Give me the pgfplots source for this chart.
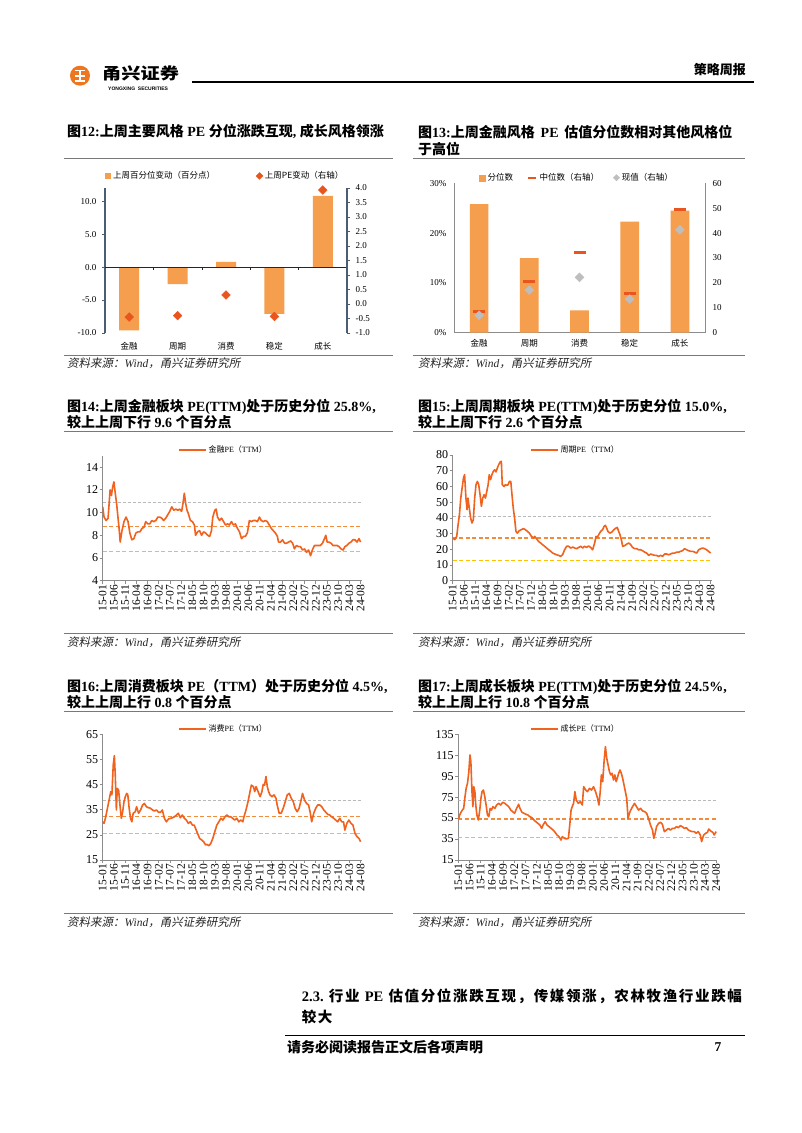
\documentclass[border=0pt]{standalone}
\usepackage{fontspec}
\setmainfont{Liberation Serif}
\newfontfamily\cjk{Noto Sans CJK SC}
\newfontfamily\cjkit[FakeSlant=0.2]{Noto Sans CJK SC}
\newfontfamily\lsans{Liberation Sans}
\usepackage{pgfplots}
\pgfplotsset{compat=1.18}
\newcommand\zh[1]{{\cjk #1}}
\newcommand\zhi[1]{{\cjkit #1}}
\newcommand\fs[1]{\fontsize{#1}{#1}\selectfont}
\newcommand\sg{\hskip 0pt plus 1fil\relax}
\definecolor{barc}{RGB}{245,158,78}
\definecolor{linec}{RGB}{240,98,30}
\definecolor{diac}{RGB}{233,85,30}
\definecolor{curc}{RGB}{190,190,190}
\definecolor{axgray}{RGB}{140,140,140}
\definecolor{axblue}{RGB}{75,92,115}
\definecolor{dgray}{RGB}{185,185,185}
\definecolor{dorange}{RGB}{240,140,60}
\definecolor{dyellow}{RGB}{255,192,0}
\definecolor{logoc}{RGB}{237,118,30}
\definecolor{rulec}{RGB}{120,120,120}
\pgfplotsset{
  /pgf/number format/assume math mode=true,
  linechart/.style={
    scale only axis, width=259pt, height=125.5pt,
    xmin=0, xmax=115.5,
    axis x line*=bottom, axis y line*=left,
    axis line style={draw=axgray, line width=0.8pt},
    tick style={draw=axgray, line width=0.6pt},
    tick align=outside, major tick length=3pt,
    xtick={0,5,...,115},
    xticklabels={15-01,15-06,15-11,16-04,16-09,17-02,17-07,17-12,18-05,18-10,19-03,19-08,20-01,20-06,20-11,21-04,21-09,22-02,22-07,22-12,23-05,23-10,24-03,24-08},
    xticklabel style={rotate=90, anchor=east, font=\fs{11.5}, inner sep=1pt},
    yticklabel style={font=\fs{12}, inner sep=1.5pt},
    legend style={draw=none, fill=none, font=\fs{8}, inner sep=0pt, anchor=west},
    legend image code/.code={\draw[##1, line width=1.6pt] (0pt,0pt) -- (27pt,0pt);},
  },
  pe/.style={linec, line width=1.6pt, line join=round, no markers},
  dg/.style={dgray, line width=0.8pt, dash pattern=on 3pt off 2pt, forget plot},
  do/.style={dorange, line width=1.1pt, dash pattern=on 4pt off 2.5pt, forget plot},
  dy/.style={dyellow, line width=1.1pt, dash pattern=on 4pt off 2.5pt, forget plot},
}
\begin{document}
\begin{tikzpicture}
\path[use as bounding box, fill=white] (0,0) rectangle (802pt,-1133pt);

% ---------- header ----------
\fill[logoc] (80pt,-75.7pt) circle (10pt);
\draw[white, line width=1.6pt] (75pt,-70.5pt) -- (85pt,-70.5pt) (75pt,-75.7pt) -- (85pt,-75.7pt) (75pt,-81pt) -- (85pt,-81pt) (80pt,-69.5pt) -- (80pt,-82pt);
\node[anchor=west, inner sep=0pt, font=\bfseries\fs{16}, xscale=1.2, transform shape] at (102pt,-73.3pt) {\zh{甬兴证券}};
\node[anchor=west, inner sep=0pt, font=\lsans\bfseries\fs{5}] at (108pt,-88.3pt) {YONGXING\ \ SECURITIES};
\draw[black, line width=1.6pt] (192pt,-81.7pt) -- (754pt,-81.7pt);
\node[anchor=east, inner sep=0pt, font=\bfseries\fs{13}] at (746pt,-70pt) {\zh{策略周报}};

% ---------- titles ----------
\node[anchor=west, inner sep=0pt, font=\bfseries\fs{14}] at (67pt,-131.7pt) {\zh{图}12:\zh{上周主要风格} PE \zh{分位涨跌互现}, \zh{成长风格领涨}};
\node[anchor=west, inner sep=0pt, font=\bfseries\fs{14}] at (418pt,-131.7pt) {\zh{图}13:\zh{上周金融风格}\ \,PE\ \,\zh{估值分位数相对其他风格位}};
\node[anchor=west, inner sep=0pt, font=\bfseries\fs{14}] at (418pt,-149.3pt) {\zh{于高位}};
\node[anchor=west, inner sep=0pt, font=\bfseries\fs{14}] at (67pt,-406.7pt) {\zh{图}14:\zh{上周金融板块} PE(TTM)\zh{处于历史分位} 25.8\%,};
\node[anchor=west, inner sep=0pt, font=\bfseries\fs{14}] at (67pt,-422.3pt) {\zh{较上上周下行} 9.6 \zh{个百分点}};
\node[anchor=west, inner sep=0pt, font=\bfseries\fs{14}] at (418pt,-406.7pt) {\zh{图}15:\zh{上周周期板块} PE(TTM)\zh{处于历史分位} 15.0\%,};
\node[anchor=west, inner sep=0pt, font=\bfseries\fs{14}] at (418pt,-422.3pt) {\zh{较上上周下行} 2.6 \zh{个百分点}};
\node[anchor=west, inner sep=0pt, font=\bfseries\fs{14}] at (67pt,-686.7pt) {\zh{图}16:\zh{上周消费板块} PE\zh{（}TTM\zh{）处于历史分位} 4.5\%,};
\node[anchor=west, inner sep=0pt, font=\bfseries\fs{14}] at (67pt,-702.3pt) {\zh{较上上周上行} 0.8 \zh{个百分点}};
\node[anchor=west, inner sep=0pt, font=\bfseries\fs{14}] at (418pt,-686.7pt) {\zh{图}17:\zh{上周成长板块} PE(TTM)\zh{处于历史分位} 24.5\%,};
\node[anchor=west, inner sep=0pt, font=\bfseries\fs{14}] at (418pt,-702.3pt) {\zh{较上上周上行} 10.8 \zh{个百分点}};

% ---------- rules ----------
\draw[rulec, line width=1pt] (64pt,-158.5pt) -- (393pt,-158.5pt) (413pt,-158.5pt) -- (745pt,-158.5pt);
\draw[rulec, line width=1pt] (64pt,-355pt) -- (393pt,-355pt) (413pt,-355pt) -- (745pt,-355pt);
\draw[rulec, line width=1pt] (64pt,-431.7pt) -- (393pt,-431.7pt) (413pt,-431.7pt) -- (745pt,-431.7pt);
\draw[rulec, line width=1pt] (64pt,-633.3pt) -- (393pt,-633.3pt) (413pt,-633.3pt) -- (745pt,-633.3pt);
\draw[rulec, line width=1pt] (64pt,-711.7pt) -- (393pt,-711.7pt) (413pt,-711.7pt) -- (745pt,-711.7pt);
\draw[rulec, line width=1pt] (64pt,-913.3pt) -- (393pt,-913.3pt) (413pt,-913.3pt) -- (745pt,-913.3pt);

% ---------- sources ----------
\foreach \xx/\yy in {67/363,418/363,67/642.7,418/642.7,67/922.7,418/922.7}{
  \node[anchor=west, inner sep=0pt, font=\fs{11.5}, text=black!85] at (\xx pt,-\yy pt) {\zhi{资料来源：}\textit{Wind}\zhi{，甬兴证券研究所}};
}

% ---------- footer ----------
\node[anchor=west, inner sep=0pt, font=\bfseries\fs{14.5}] at (301.7pt,-996.7pt) {\makebox[440pt][s]{2.3.\sg\ {\cjk 行\sg 业}\sg\ PE\sg\ {\cjk 估\sg 值\sg 分\sg 位\sg 涨\sg 跌\sg 互\sg 现\sg ，\sg 传\sg 媒\sg 领\sg 涨\sg ，\sg 农\sg 林\sg 牧\sg 渔\sg 行\sg 业\sg 跌\sg 幅}}};
\node[anchor=west, inner sep=0pt, font=\bfseries\fs{14.5}] at (301.7pt,-1016.7pt) {{\cjk 较\hspace{1.5pt}大}};
\draw[black, line width=0.9pt] (285pt,-1035pt) -- (745pt,-1035pt);
\node[anchor=west, inner sep=0pt, font=\bfseries\fs{14}] at (287pt,-1047pt) {\zh{请务必阅读报告正文后各项声明}};
\node[anchor=center, inner sep=0pt, font=\bfseries\fs{13.5}] at (718pt,-1047pt) {7};

% ================= Chart 12 =================
\begin{axis}[at={(105pt,-333pt)}, anchor=south west, scale only axis, width=242pt, height=145pt,
  xmin=-0.5, xmax=4.5, ymin=-10, ymax=12,
  axis x line*=bottom, axis y line*=left,
  x axis line style={draw=none}, y axis line style={draw=axblue, line width=1.2pt},
  xtick={0,1,2,3,4}, xticklabels={金融,周期,消费,稳定,成长}, xtick style={draw=none},
  xticklabel style={font=\cjk\fs{8.5}, yshift=-3pt},
  ytick={-10,-5,0,5,10}, ytick style={draw=axblue, line width=0.8pt},
  tick align=outside, major tick length=3pt,
  /pgf/number format/fixed, /pgf/number format/fixed zerofill, /pgf/number format/precision=1,
  yticklabel style={font=\fs{9}, xshift=-2pt},
  legend style={at={(axis description cs:0.0,1.083)}, anchor=west, draw=none, fill=none,
    font=\cjk\fs{8.5}, legend columns=2, inner sep=0pt,
    /tikz/every even column/.append style={column sep=39pt}},
]
\addplot[ybar, bar width=20pt, fill=barc, draw=none,
  legend image code/.code={\fill[barc] (0pt,-3pt) rectangle (6pt,3pt);}]
  coordinates {(0,-9.6)(1,-2.6)(2,0.8)(3,-7.1)(4,10.8)};
\addlegendentry{上周百分位变动（百分点）}
\addlegendimage{only marks, mark=square*, mark size=2.4pt, mark options={rotate=45, fill=diac, draw=diac}}
\addlegendentry{上周PE变动（右轴）}
\draw[black!85, line width=0.7pt] (axis cs:-0.5,0) -- (axis cs:4.5,0);
\pgfplotsinvokeforeach{0.5,1.5,2.5,3.5}{\draw[black!85, line width=0.6pt] (axis cs:#1,0) -- ++(0pt,-3pt);}
\end{axis}
\begin{axis}[at={(105pt,-333pt)}, anchor=south west, scale only axis, width=242pt, height=145pt,
  xmin=-0.5, xmax=4.5, ymin=-1, ymax=4,
  axis x line=none, axis y line*=right,
  y axis line style={draw=axblue, line width=1.2pt},
  ytick={-1,-0.5,0,0.5,1,1.5,2,2.5,3,3.5,4}, ytick style={draw=axblue, line width=0.8pt},
  tick align=outside, major tick length=3pt,
  /pgf/number format/fixed, /pgf/number format/fixed zerofill, /pgf/number format/precision=1,
  yticklabel style={font=\fs{9}, xshift=2pt},
]
\addplot[only marks, mark=square*, mark size=3.1pt, mark options={rotate=45, fill=diac, draw=diac}]
  coordinates {(0,-0.45)(1,-0.40)(2,0.31)(3,-0.43)(4,3.93)};
\end{axis}

% ================= Chart 13 =================
\begin{axis}[at={(454pt,-332.7pt)}, anchor=south west, scale only axis, width=251pt, height=149.4pt,
  xmin=-0.5, xmax=4.5, ymin=0, ymax=30,
  axis x line*=bottom, axis y line*=left,
  axis line style={draw=axgray, line width=0.8pt},
  xtick={0,1,2,3,4}, xticklabels={金融,周期,消费,稳定,成长},
  xticklabel style={font=\cjk\fs{8.5}, yshift=-3pt},
  ytick={0,10,20,30}, yticklabels={0\%,10\%,20\%,30\%},
  tick style={draw=none},
  yticklabel style={font=\fs{9}, xshift=-4pt},
]
\addplot[ybar, bar width=18.7pt, fill=barc, draw=none]
  coordinates {(0,25.8)(1,15.0)(2,4.5)(3,22.3)(4,24.5)};
\end{axis}
\begin{axis}[at={(454pt,-332.7pt)}, anchor=south west, scale only axis, width=251pt, height=149.4pt,
  xmin=-0.5, xmax=4.5, ymin=0, ymax=60,
  axis x line=none, axis y line*=right,
  axis line style={draw=axgray, line width=0.8pt},
  ytick={0,10,20,30,40,50,60}, tick style={draw=none},
  yticklabel style={font=\fs{9}, xshift=4pt},
  legend style={at={(axis description cs:0.1,1.037)}, anchor=west, draw=none, fill=none,
    font=\cjk\fs{8.5}, legend columns=3, inner sep=0pt,
    /tikz/every even column/.append style={column sep=12pt}},
]
\addlegendimage{legend image code/.code={\fill[barc] (0pt,-3pt) rectangle (6pt,3pt);}}
\addlegendentry{分位数}
\addplot[only marks, mark=-, mark size=6pt, mark options={draw=diac, line width=3pt},
  legend image code/.code={\draw[diac, line width=2.5pt] (0pt,0pt) -- (8pt,0pt);}]
  coordinates {(0,8.6)(1,20.6)(2,32.1)(3,15.8)(4,49.3)};
\addlegendentry{中位数（右轴）}
\addplot[only marks, mark=square*, mark size=3.2pt, mark options={rotate=45, fill=curc, draw=curc},
  legend image code/.code={\fill[curc, rotate=45] (-2.2pt,-2.2pt) rectangle (2.2pt,2.2pt);}]
  coordinates {(0,7.0)(1,17.1)(2,22.2)(3,13.5)(4,41.3)};
\addlegendentry{现值（右轴）}
\end{axis}

% ================= Chart 14 =================
\begin{axis}[linechart, at={(102.7pt,-580.7pt)}, anchor=south west, height=125pt,
  ymin=4, ymax=15, ytick={4,6,8,10,12,14},
  legend style={at={(axis description cs:0.29,1.046)}},
]
\addplot[dg] coordinates {(0,10.93)(115.5,10.93)};
\addplot[do] coordinates {(0,8.74)(115.5,8.74)};
\addplot[dy] coordinates {(0,6.54)(115.5,6.54)};
\addplot[pe] coordinates {(0,10.5)(0.6,9.6)(1.5,9.3)(2.4,9.5)(3.3,12.0)(3.9,11.5)(4.4,12.2)(5.0,12.7)(5.6,11.7)(6.2,10.8)(6.8,9.6)(7.4,8.4)(7.8,7.4)(8.6,8.4)(9.5,9.2)(10.4,9.6)(11.3,9.2)(12.1,8.2)(13.0,7.6)(13.9,7.7)(14.8,8.2)(15.7,8.3)(16.6,8.3)(17.5,8.6)(18.4,8.7)(19.2,9.2)(20.1,9.0)(21.0,9.0)(21.9,9.3)(22.8,9.2)(23.7,9.3)(24.6,9.6)(25.5,9.6)(26.3,9.5)(27.2,9.3)(28.1,9.5)(29.0,9.8)(29.9,10.1)(30.8,10.5)(31.7,10.2)(32.6,10.3)(33.5,10.2)(34.3,10.3)(35.2,10.1)(35.8,10.8)(36.4,11.7)(37.0,10.8)(37.6,10.2)(38.2,9.9)(39.1,9.3)(40.0,9.2)(40.9,8.9)(41.4,8.0)(42.3,8.3)(43.2,8.4)(44.1,8.0)(45.0,8.3)(45.9,8.2)(46.8,8.0)(47.7,7.9)(48.5,8.4)(49.1,9.6)(50.0,10.2)(50.6,10.3)(51.2,9.6)(52.1,9.3)(53.0,9.5)(53.9,9.2)(54.8,8.9)(55.7,9.0)(56.5,8.9)(57.4,9.2)(58.3,8.9)(59.2,9.0)(60.1,8.6)(61.0,8.3)(61.9,7.7)(62.8,7.9)(63.6,7.9)(64.5,8.2)(65.4,9.3)(66.3,9.2)(67.2,9.3)(68.1,9.3)(69.0,9.2)(69.9,9.6)(70.7,9.3)(71.6,9.2)(72.5,9.3)(73.4,9.2)(74.3,8.9)(75.2,8.6)(76.1,8.4)(77.0,8.2)(77.9,7.9)(78.4,7.4)(79.3,7.4)(80.2,7.6)(81.1,7.3)(82.0,7.3)(82.9,7.4)(83.8,7.5)(84.7,7.3)(85.5,6.8)(86.4,7.1)(87.3,7.0)(88.2,7.0)(89.1,6.7)(90.0,6.8)(90.9,6.5)(91.8,6.7)(92.7,6.2)(93.5,6.7)(94.4,7.1)(95.3,7.1)(96.2,7.1)(97.1,7.1)(98.0,7.3)(98.9,7.7)(99.5,8.0)(100.1,7.4)(100.9,7.4)(101.8,7.3)(102.7,7.1)(103.6,7.1)(104.5,7.1)(105.4,7.0)(106.3,6.8)(107.2,6.7)(108.0,7.0)(108.9,7.1)(109.8,7.3)(110.7,7.4)(111.6,7.6)(112.5,7.6)(113.4,7.4)(114.3,7.7)(115.0,7.4)};
\addlegendentry{\zh{金融}PE\zh{（}TTM\zh{）}}
\end{axis}

% ================= Chart 15 =================
\begin{axis}[linechart, at={(452.7pt,-580.7pt)}, anchor=south west, height=125.7pt,
  ymin=0, ymax=80, ytick={0,10,20,30,40,50,60,70,80},
  legend style={at={(axis description cs:0.298,1.04)}},
]
\addplot[dg] coordinates {(0,41.0)(115.5,41.0)};
\addplot[do] coordinates {(0,27.2)(115.5,27.2)};
\addplot[dy] coordinates {(0,12.7)(115.5,12.7)};
\addplot[pe] coordinates {(0,27.2)(0.9,26.1)(1.8,28.2)(2.4,35.6)(3.0,42.0)(3.6,52.6)(4.2,59.0)(4.8,65.4)(5.3,67.5)(5.9,52.6)(6.4,45.2)(6.8,52.6)(7.4,46.3)(8.0,39.9)(8.6,36.7)(9.2,38.8)(9.8,52.6)(10.4,61.1)(11.0,63.2)(11.6,61.1)(12.2,54.7)(12.8,47.3)(13.4,52.6)(14.0,54.7)(14.6,52.6)(15.2,56.9)(15.8,61.1)(16.3,67.5)(16.9,64.3)(17.5,67.5)(18.1,69.6)(18.7,70.6)(19.3,69.2)(19.9,71.7)(20.5,73.8)(21.1,75.5)(21.7,76.0)(22.1,61.1)(22.9,60.0)(23.5,61.1)(24.1,60.7)(24.7,61.1)(25.3,63.2)(25.9,63.2)(26.5,53.7)(27.0,46.3)(27.6,39.9)(28.2,31.4)(28.8,30.3)(29.7,31.8)(30.6,32.5)(31.5,33.1)(32.4,32.5)(33.3,31.4)(34.2,30.3)(35.1,28.2)(36.0,27.2)(36.6,28.2)(37.4,26.7)(38.3,25.0)(39.2,24.0)(40.1,22.9)(41.0,21.9)(41.9,20.8)(42.8,19.7)(43.7,18.7)(44.6,17.6)(45.5,17.0)(46.4,16.5)(47.3,16.1)(48.1,15.5)(49.0,16.5)(49.9,19.7)(50.8,21.9)(51.7,21.9)(52.6,20.8)(53.5,21.4)(54.4,20.8)(55.3,20.4)(56.2,21.2)(57.1,21.9)(58.0,20.8)(58.8,21.9)(59.7,21.2)(60.6,22.1)(61.5,21.2)(62.4,19.7)(63.3,24.0)(63.9,28.2)(64.5,27.6)(65.1,29.3)(66.0,31.4)(66.9,32.5)(67.5,34.6)(68.1,35.2)(68.7,33.3)(69.2,31.4)(70.1,30.3)(71.0,31.0)(71.9,32.5)(72.8,33.5)(73.4,33.9)(74.0,31.4)(74.6,29.3)(75.2,26.1)(75.8,21.9)(76.7,22.3)(77.6,23.3)(78.5,24.0)(79.4,22.9)(80.2,21.2)(81.1,20.4)(82.0,20.4)(82.9,19.7)(83.8,19.7)(84.7,19.1)(85.6,18.2)(86.5,17.6)(87.4,16.1)(88.3,17.0)(89.2,16.5)(90.1,16.1)(90.9,16.1)(91.8,15.5)(92.7,16.1)(93.6,15.5)(94.5,17.0)(95.4,17.0)(96.3,16.5)(97.2,17.0)(98.1,17.6)(99.0,17.6)(99.9,18.2)(100.8,18.2)(101.6,18.7)(102.5,19.1)(103.4,20.4)(104.3,19.7)(105.2,19.1)(106.1,18.7)(107.0,18.7)(107.9,18.2)(108.8,17.6)(109.7,19.7)(110.6,20.4)(111.5,20.8)(112.3,20.4)(113.2,19.7)(114.1,18.7)(115.0,17.6)};
\addlegendentry{\zh{周期}PE\zh{（}TTM\zh{）}}
\end{axis}

% ================= Chart 16 =================
\begin{axis}[linechart, at={(102.7pt,-860pt)}, anchor=south west, height=125.7pt,
  ymin=15, ymax=65, ytick={15,25,35,45,55,65},
  legend style={at={(axis description cs:0.29,1.042)}},
]
\addplot[dg] coordinates {(0,38.9)(115.5,38.9)};
\addplot[do] coordinates {(0,32.2)(115.5,32.2)};
\addplot[dy] coordinates {(0,25.6)(115.5,25.6)};
\addplot[pe] coordinates {(0,30.2)(0.6,29.6)(1.2,31.6)(1.8,34.2)(2.4,36.9)(3.0,39.5)(3.6,42.2)(4.1,40.9)(4.7,52.8)(5.2,56.5)(5.6,48.8)(6.1,34.9)(6.5,43.5)(7.1,42.8)(7.7,36.9)(8.3,31.6)(8.9,34.2)(9.5,38.2)(10.1,40.2)(10.7,41.5)(11.2,40.9)(11.8,35.6)(12.4,31.6)(13.0,30.2)(13.6,33.6)(14.5,34.2)(15.1,36.2)(16.0,33.6)(16.9,34.9)(17.8,36.9)(18.6,37.5)(19.5,36.2)(20.4,35.8)(21.3,35.6)(22.2,34.9)(23.1,34.5)(24.0,34.9)(24.9,34.0)(25.8,34.0)(26.6,34.9)(27.5,31.6)(28.4,30.2)(29.3,31.3)(30.2,31.6)(31.1,31.8)(32.0,32.2)(32.9,32.9)(33.7,33.6)(34.6,31.8)(35.5,32.9)(36.4,31.6)(37.3,30.9)(38.2,29.6)(39.1,30.2)(40.0,28.9)(40.8,28.9)(41.4,27.6)(42.3,25.6)(43.2,23.6)(44.1,23.0)(45.0,22.3)(45.9,21.0)(46.5,21.2)(47.4,20.7)(48.2,21.6)(49.1,23.6)(50.0,26.3)(50.9,28.9)(51.8,30.2)(52.7,31.6)(53.6,30.9)(54.5,32.2)(55.4,32.9)(56.2,32.2)(57.1,32.2)(58.0,31.6)(58.9,30.9)(59.8,31.6)(60.7,30.2)(61.6,30.9)(62.5,30.2)(63.0,32.2)(63.9,34.9)(64.8,38.2)(65.7,42.2)(66.3,44.8)(67.2,44.2)(67.8,42.2)(68.4,44.2)(69.3,42.2)(70.2,40.2)(71.0,42.2)(71.6,45.1)(72.2,44.8)(72.8,48.2)(73.4,44.2)(74.0,42.2)(74.6,40.9)(75.5,40.2)(76.4,40.9)(77.3,39.5)(77.8,36.9)(78.7,33.6)(79.6,33.6)(80.5,35.6)(81.4,38.2)(82.3,40.9)(83.2,41.5)(84.1,39.5)(85.0,38.2)(85.8,35.6)(86.7,34.2)(87.6,35.6)(88.5,38.9)(89.1,41.5)(90.0,38.9)(90.9,37.5)(91.8,36.9)(92.6,33.6)(93.2,30.2)(94.1,33.6)(95.0,35.6)(95.9,36.9)(96.8,36.9)(97.7,36.2)(98.6,34.9)(99.5,34.0)(100.3,33.2)(101.2,32.9)(102.1,32.2)(103.0,31.6)(103.9,30.9)(104.8,30.2)(105.7,31.6)(106.6,30.2)(107.4,30.2)(108.0,26.9)(108.9,29.6)(109.8,30.9)(110.7,29.6)(111.6,28.9)(112.5,25.6)(113.4,24.3)(114.3,23.6)(115.0,22.3)};
\addlegendentry{\zh{消费}PE\zh{（}TTM\zh{）}}
\end{axis}

% ================= Chart 17 =================
\begin{axis}[linechart, at={(458.3pt,-860pt)}, anchor=south west, height=125.7pt,
  ymin=15, ymax=135, ytick={15,35,55,75,95,115,135},
  legend style={at={(axis description cs:0.276,1.042)}},
]
\addplot[dg] coordinates {(0,72.3)(115.5,72.3)};
\addplot[do] coordinates {(0,54.2)(115.5,54.2)};
\addplot[dy] coordinates {(0,36.3)(115.5,36.3)};
\addplot[pe] coordinates {(0,53.2)(0.6,58.0)(1.2,60.5)(1.8,62.7)(2.4,64.3)(3.0,75.5)(3.5,83.4)(4.1,88.2)(4.7,99.3)(5.2,115.3)(5.6,108.9)(6.1,80.3)(6.5,65.9)(6.9,85.0)(7.4,80.3)(7.8,67.5)(8.3,58.0)(8.9,53.2)(9.5,61.2)(10.1,73.9)(10.6,80.3)(11.2,81.8)(11.8,75.5)(12.4,67.5)(13.0,58.0)(13.6,56.4)(14.2,64.3)(14.8,62.7)(15.4,65.9)(16.3,64.3)(17.1,67.5)(18.0,69.1)(18.9,67.5)(19.8,70.1)(20.7,69.1)(21.6,67.5)(22.5,65.9)(23.4,62.7)(24.2,61.2)(25.1,59.6)(26.0,64.3)(26.9,68.2)(27.5,64.3)(28.4,60.5)(29.3,59.6)(30.2,58.6)(31.0,58.0)(31.9,56.4)(32.8,55.4)(33.7,53.2)(34.6,51.6)(35.5,50.0)(36.4,48.4)(37.2,45.2)(37.8,48.4)(38.7,51.6)(39.6,48.4)(40.5,46.8)(41.4,45.2)(42.3,43.6)(43.2,41.4)(44.0,38.9)(44.9,37.3)(45.8,34.1)(46.4,37.3)(47.3,35.7)(48.2,35.1)(49.1,35.7)(49.7,48.4)(50.3,62.7)(50.8,65.9)(51.4,69.1)(52.0,80.3)(52.6,72.3)(53.5,69.1)(54.4,70.7)(55.3,67.5)(55.9,85.0)(56.8,81.8)(57.6,80.3)(58.5,83.4)(59.4,81.8)(60.3,85.0)(61.2,80.3)(62.1,73.9)(62.7,67.5)(63.3,80.3)(63.8,96.2)(64.4,89.8)(65.0,108.9)(65.6,123.2)(66.2,112.1)(66.8,105.7)(67.4,99.3)(68.0,96.2)(68.6,97.8)(69.2,91.4)(69.8,96.2)(70.4,89.8)(70.9,93.0)(71.5,97.8)(72.1,100.9)(72.7,97.8)(73.3,93.0)(73.9,86.6)(74.5,80.3)(75.1,73.9)(75.7,54.8)(76.3,59.6)(76.9,62.7)(77.7,65.9)(78.6,69.1)(79.5,65.9)(80.4,62.7)(81.3,64.3)(82.2,61.8)(83.1,61.2)(84.0,59.6)(84.8,54.8)(85.7,48.4)(86.6,43.6)(87.2,35.7)(87.8,40.5)(88.4,46.8)(89.3,50.0)(90.2,51.0)(91.0,49.1)(91.9,42.1)(92.8,43.6)(93.7,45.2)(94.6,43.6)(95.5,45.2)(96.4,45.2)(97.3,46.8)(98.1,45.9)(99.0,47.8)(99.9,46.8)(100.8,45.2)(101.7,45.9)(102.6,43.6)(103.5,42.7)(104.3,42.1)(105.2,42.1)(106.1,40.5)(107.0,42.1)(107.9,38.9)(108.5,32.5)(109.4,38.9)(110.3,40.5)(111.1,41.4)(111.7,44.6)(112.6,42.7)(113.5,41.4)(114.1,38.9)(115.0,42.1)};
\addlegendentry{\zh{成长}PE\zh{（}TTM\zh{）}}
\end{axis}
\end{tikzpicture}
\end{document}
